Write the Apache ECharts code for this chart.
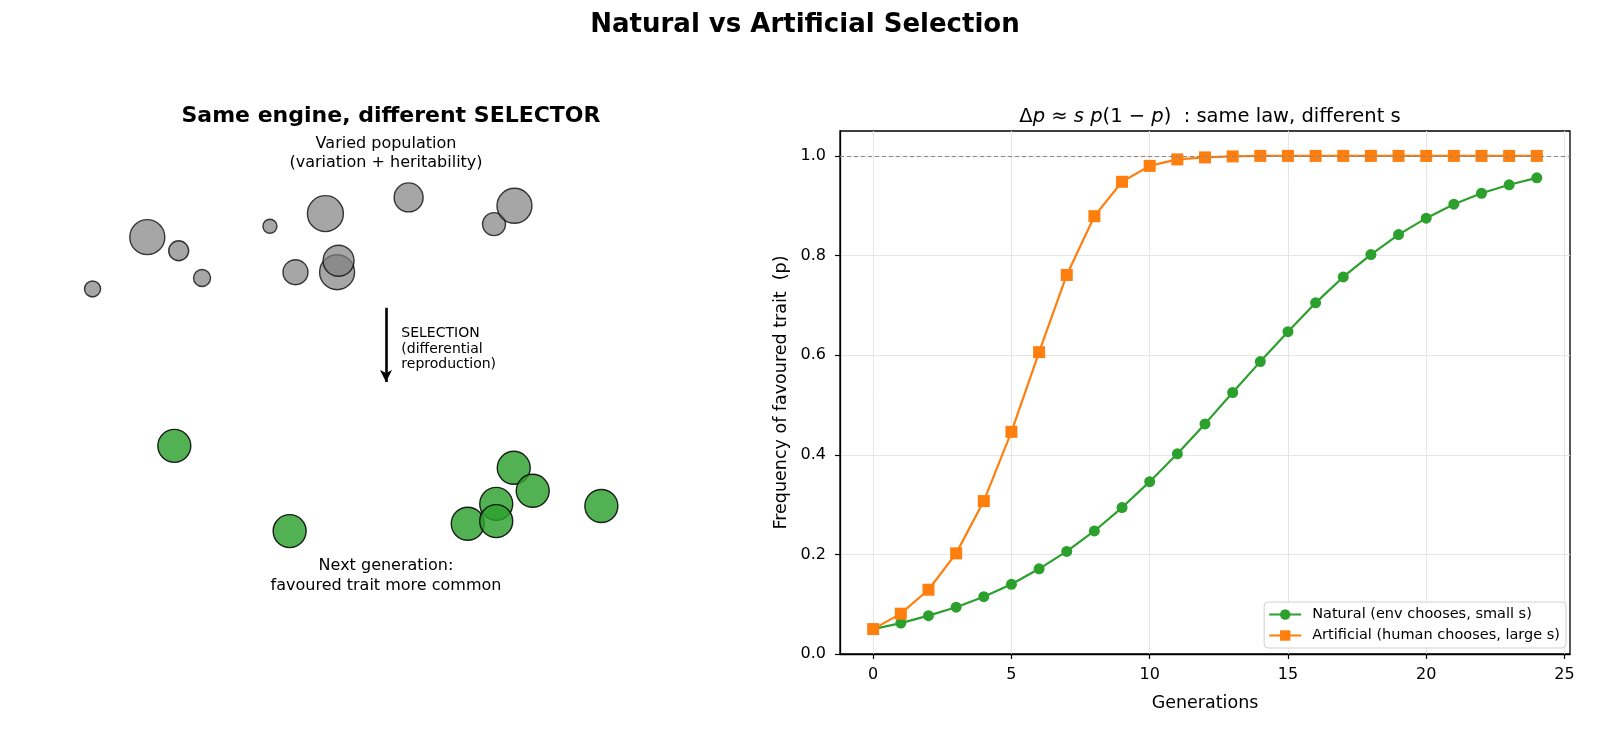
<!DOCTYPE html>
<html>
<head>
<meta charset="utf-8">
<title>Natural vs Artificial Selection</title>
<script src="https://cdn.jsdelivr.net/npm/echarts@6/dist/echarts.min.js"></script>
<style>
  html, body { margin: 0; padding: 0; background: #fff; }
  #chart { width: 1600px; height: 733px; }
</style>
</head>
<body>
<div id="chart"></div>
<script>
// right panel: allele frequency over generations
const generations = [0, 1, 2, 3, 4, 5, 6, 7, 8, 9, 10, 11, 12, 13, 14, 15, 16, 17, 18, 19, 20, 21, 22, 23, 24];
const naturalP = [0.050, 0.062, 0.077, 0.094, 0.115, 0.140, 0.171, 0.206, 0.247, 0.294, 0.346, 0.402, 0.462,
    0.525, 0.587, 0.647, 0.705, 0.757, 0.802, 0.842, 0.875, 0.903, 0.925, 0.942, 0.956];
const artificialP = [0.050, 0.081, 0.129, 0.202, 0.307, 0.446, 0.606, 0.761, 0.879, 0.948, 0.980, 0.993, 0.997,
    0.999, 1.000, 1.000, 1.000, 1.000, 1.000, 1.000, 1.000, 1.000, 1.000, 1.000, 1.000];
const xTicks = [0, 5, 10, 15, 20, 25];
const yTicks = [0, 0.2, 0.4, 0.6, 0.8, 1.0];

// left panel: parents (grey) and next generation (green), x / y / trait size
const parentX = [0.98, 1.73, 2.16, 2.48, 3.41, 3.76, 4.17, 4.33, 4.35, 5.31, 6.48, 6.76];
const parentY = [6.98, 7.97, 7.71, 7.19, 8.18, 7.30, 8.42, 7.30, 7.52, 8.73, 8.22, 8.57];
const parentSize = [16, 35, 20, 17, 14, 25, 36, 35, 31, 29, 23, 35];
const offspringX = [2.10, 3.68, 6.75, 7.01, 6.51, 6.12, 6.51, 7.95];
const offspringY = [3.98, 2.35, 3.56, 3.12, 2.87, 2.49, 2.54, 2.83];
const offspringSize = [33, 33, 33, 33, 33, 33, 33, 33];

const FONT = 'DejaVu Sans';
const chart = echarts.init(document.getElementById('chart'));

const zip = (xs, ys, ss) => xs.map((x, i) => ss ? [x, ys[i], ss[i]] : [x, ys[i]]);
const mathPart = (extra) => Object.assign({ fontFamily: FONT, fontSize: 19.5, fontWeight: 'normal', color: '#000' }, extra);

const option = {
    animation: false,
    backgroundColor: '#fff',
    textStyle: { fontFamily: FONT, color: '#000' },
    title: [
        {
            text: 'Natural vs Artificial Selection',
            left: 800, top: 7, textAlign: 'center',
            textStyle: { fontFamily: FONT, fontSize: 26, fontWeight: 'bold', color: '#000' }
        },
        {
            text: 'Same engine, different SELECTOR',
            left: 386, top: 100, textAlign: 'center',
            textStyle: { fontFamily: FONT, fontSize: 22, fontWeight: 'bold', color: '#000' }
        },
        {
            text: '{n|Δ}{i|p}{n| ≈ }{i|s p}{n|(1 − }{i|p}{n|)  : same law, different s}',
            left: 1205, top: 102, textAlign: 'center',
            textStyle: {
                fontFamily: FONT, fontSize: 19.5, fontWeight: 'normal', color: '#000',
                rich: {
                    n: mathPart({}),
                    i: mathPart({ fontStyle: 'italic' })
                }
            }
        }
    ],
    legend: {
        data: ['Natural (env chooses, small s)', 'Artificial (human chooses, large s)'],
        orient: 'vertical',
        right: 34, bottom: 85,
        itemWidth: 32, itemHeight: 13, itemGap: 6,
        padding: [5, 6, 5, 4],
        backgroundColor: 'rgba(255,255,255,0.85)',
        borderColor: '#d0d0d0', borderWidth: 1, borderRadius: 4,
        textStyle: { fontFamily: FONT, fontSize: 14.5, color: '#000', padding: [0, 0, 0, 6] }
    },
    grid: [
        { left: 21, top: 131, width: 730, height: 523, show: false, outerBoundsMode: 'none' },
        { left: 840, top: 131, width: 730, height: 523, show: true, borderColor: '#000', borderWidth: 1.3, outerBoundsMode: 'none' }
    ],
    xAxis: [
        { gridIndex: 0, type: 'value', min: 0, max: 10, show: false },
        {
            gridIndex: 1, type: 'value', min: -1.2, max: 25.2,
            name: 'Generations', nameLocation: 'middle', nameGap: 40,
            nameTextStyle: { fontFamily: FONT, fontSize: 17.5, color: '#000' },
            axisLine: { show: true, onZero: false, lineStyle: { color: '#000', width: 1.3 } },
            axisTick: { show: true, length: 5, customValues: xTicks, lineStyle: { color: '#000', width: 1.2 } },
            axisLabel: { customValues: xTicks, margin: 13, fontFamily: FONT, fontSize: 16, color: '#000' },
            splitLine: { show: true, lineStyle: { color: '#e6e6e6', width: 1 } }
        }
    ],
    yAxis: [
        { gridIndex: 0, type: 'value', min: 0, max: 10, show: false },
        {
            gridIndex: 1, type: 'value', min: 0, max: 1.05,
            name: 'Frequency of favoured trait  (p)', nameLocation: 'middle', nameGap: 50,
            nameTextStyle: { fontFamily: FONT, fontSize: 17.5, color: '#000' },
            axisLine: { show: true, onZero: false, lineStyle: { color: '#000', width: 1.3 } },
            axisTick: { show: true, length: 5, customValues: yTicks, lineStyle: { color: '#000', width: 1.2 } },
            axisLabel: {
                customValues: yTicks, margin: 14, fontFamily: FONT, fontSize: 16, color: '#000',
                formatter: v => v.toFixed(1)
            },
            splitLine: { show: true, lineStyle: { color: '#e6e6e6', width: 1 } }
        }
    ],
    series: [
        {
            name: 'parents', type: 'scatter', xAxisIndex: 0, yAxisIndex: 0,
            data: zip(parentX, parentY, parentSize),
            symbolSize: d => d[2],
            itemStyle: { opacity: 1, color: 'rgba(128,128,128,0.7)', borderColor: 'rgba(0,0,0,0.75)', borderWidth: 1.4 },
            silent: true
        },
        {
            name: 'offspring', type: 'scatter', xAxisIndex: 0, yAxisIndex: 0,
            data: zip(offspringX, offspringY, offspringSize),
            symbolSize: d => d[2],
            itemStyle: { opacity: 1, color: 'rgba(44,160,44,0.82)', borderColor: 'rgba(0,0,0,0.85)', borderWidth: 1.4 },
            silent: true,
            // selection arrow
            markLine: {
                silent: true,
                symbol: ['none', 'arrow'],
                symbolSize: [9, 12],
                label: { show: false },
                lineStyle: { color: '#000', width: 2.6, type: 'solid', opacity: 1 },
                data: [[{ coord: [5, 6.62] }, { coord: [5, 5.2] }]]
            }
        },
        {
            name: 'fixation', type: 'line', xAxisIndex: 1, yAxisIndex: 1, data: [], z: 1,
            markLine: {
                silent: true, symbol: 'none', label: { show: false },
                lineStyle: { color: '#888', width: 1, type: [4, 3] },
                data: [{ yAxis: 1.0 }]
            }
        },
        {
            name: 'Natural (env chooses, small s)', type: 'line', xAxisIndex: 1, yAxisIndex: 1, z: 3,
            data: zip(generations, naturalP),
            symbol: 'circle', symbolSize: 11,
            itemStyle: { color: '#2ca02c' },
            lineStyle: { color: '#2ca02c', width: 2.2 }
        },
        {
            name: 'Artificial (human chooses, large s)', type: 'line', xAxisIndex: 1, yAxisIndex: 1, z: 4,
            data: zip(generations, artificialP),
            symbol: 'rect', symbolSize: 12,
            itemStyle: { color: '#ff7f0e' },
            lineStyle: { color: '#ff7f0e', width: 2.2 }
        }
    ]
};

chart.setOption(option);

// annotation texts on the left panel, placed in its data coordinates
const notes = [
    { at: [5, 9.57], align: 'center', size: 16, lh: 19, text: 'Varied population\n(variation + heritability)' },
    { at: [5.21, 5.83], align: 'left', size: 14, lh: 15.5, text: 'SELECTION\n(differential\nreproduction)' },
    { at: [5, 1.49], align: 'center', size: 16, lh: 20, text: 'Next generation:\nfavoured trait more common' }
];
chart.setOption({
    graphic: notes.map(n => {
        const p = chart.convertToPixel({ gridIndex: 0 }, n.at);
        return {
            type: 'text', x: p[0], y: p[1], silent: true,
            style: {
                text: n.text, fill: '#000', font: `${n.size}px "${FONT}"`,
                lineHeight: n.lh, align: n.align, verticalAlign: 'middle'
            }
        };
    })
});
</script>
</body>
</html>
